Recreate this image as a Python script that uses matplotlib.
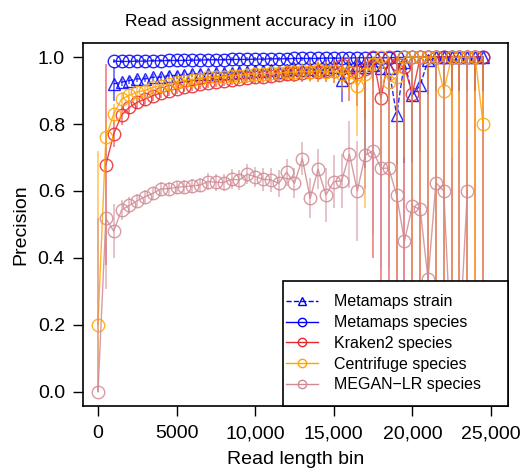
import numpy as np
import matplotlib
matplotlib.use("Agg")
import matplotlib.pyplot as plt
from matplotlib.patches import Rectangle

plt.rcParams['font.family'] = ['Liberation Sans', 'DejaVu Sans']

# read length bins
bins = list(range(0, 25000, 500))
nan = np.nan

strain = [nan, nan, 0.92, 0.925, 0.93, 0.935, 0.935, 0.94, 0.94, 0.945,
          0.945, 0.947, 0.95, 0.95, 0.95, 0.952, 0.953, 0.952, 0.955, 0.955,
          0.957, 0.958, 0.96, 0.955, 0.96, 0.965, 0.96, 0.965, 0.96, 0.965,
          0.97, 0.931, 0.97, 0.975, 0.97, 0.975, 0.967, 0.967, 0.827, 0.985,
          0.887, 0.916, 0.99, 1.0, 1.0, 1.0, 1.0, 1.0, 1.0, 1.0]
strain_err = [nan, nan, 0.05, 0.01, 0.01, 0.01, 0.01, 0.01, 0.01, 0.01,
              0.01, 0.01, 0.01, 0.01, 0.012, 0.012, 0.012, 0.012, 0.014, 0.014,
              0.015, 0.015, 0.016, 0.018, 0.018, 0.02, 0.02, 0.022, 0.022, 0.025,
              0.03, 0.065, 0.04, 0.05, 0.3, 0.05, 0.08, 0.08, 0.15, 0.3,
              0.2, 0.2, 0.1, 0.1, 0.1, 0.1, 0.1, 0.1, 0.1, 0.1]

species = [nan, nan, 0.988, 0.987, 0.987, 0.988, 0.988, 0.989, 0.989, 0.99,
           0.99, 0.99, 0.991, 0.991, 0.992, 0.992, 0.992, 0.993, 0.993, 0.993,
           0.994, 0.994, 0.995, 0.995, 0.995, 0.996, 0.996, 0.996, 0.996, 0.997,
           0.997, 0.997, 0.997, 0.998, 0.998, 0.998, 0.998, 0.998, 0.999, 0.999,
           1.0, 1.0, 1.0, 1.0, 1.0, 1.0, 1.0, 1.0, 1.0, 1.0]
species_err = [nan, nan, 0.005, 0.005, 0.005, 0.005, 0.005, 0.005, 0.005, 0.005,
               0.005, 0.005, 0.005, 0.005, 0.005, 0.005, 0.005, 0.006, 0.006, 0.006,
               0.006, 0.006, 0.007, 0.007, 0.007, 0.008, 0.008, 0.008, 0.009, 0.009,
               0.01, 0.01, 0.01, 0.012, 0.012, 0.015, 0.015, 0.02, 0.02, 0.02,
               0.02, 0.02, 0.02, 0.02, 0.02, 0.02, 0.02, 0.02, 0.02, 0.02]

kraken = [nan, 0.678, 0.77, 0.827, 0.85, 0.865, 0.875, 0.885, 0.893, 0.9,
          0.905, 0.91, 0.915, 0.92, 0.923, 0.927, 0.93, 0.933, 0.935, 0.938,
          0.94, 0.942, 0.945, 0.947, 0.95, 0.95, 0.952, 0.955, 0.955, 0.957,
          0.958, 0.976, 0.94, 0.955, 0.965, 1.0, 0.877, 1.0, 0.98, 0.97,
          0.89, 1.0, 1.0, 1.0, 1.0, 1.0, 1.0, 1.0, 1.0, 1.0]
kraken_err = [nan, 0.3, 0.04, 0.03, 0.02, 0.02, 0.02, 0.015, 0.015, 0.015,
              0.015, 0.015, 0.015, 0.015, 0.015, 0.015, 0.015, 0.015, 0.015, 0.015,
              0.02, 0.02, 0.02, 0.02, 0.02, 0.025, 0.025, 0.025, 0.03, 0.03,
              0.035, 0.04, 0.07, 0.1, 0.15, 0.6, 0.6, 1.0, 1.0, 1.0,
              1.0, 1.0, 1.0, 1.0, 1.0, 1.0, 1.0, 1.0, 1.0, 1.0]

centrifuge = [0.2, 0.76, 0.83, 0.875, 0.886, 0.896, 0.9, 0.91, 0.915, 0.92,
              0.925, 0.93, 0.932, 0.935, 0.94, 0.94, 0.942, 0.945, 0.945, 0.948,
              0.95, 0.95, 0.952, 0.952, 0.955, 0.955, 0.958, 0.955, 0.96, 0.955,
              0.958, 0.95, 0.955, 0.913, 0.949, 0.98, 1.0, 0.926, 0.94, 1.0,
              1.0, 1.0, 1.0, 1.0, 0.9, 1.0, 1.0, 1.0, 1.0, 0.8]
centrifuge_err = [0.52, 0.05, 0.03, 0.02, 0.02, 0.015, 0.015, 0.015, 0.015, 0.015,
                  0.015, 0.015, 0.015, 0.015, 0.015, 0.015, 0.015, 0.015, 0.015, 0.02,
                  0.02, 0.02, 0.02, 0.02, 0.02, 0.025, 0.025, 0.03, 0.03, 0.03,
                  0.035, 0.05, 0.06, 0.15, 0.4, 0.2, 0.3, 0.3, 0.6, 0.3,
                  0.8, 1.0, 1.0, 1.0, 1.0, 1.0, 1.0, 1.0, 1.0, 1.0]

megan = [0.0, 0.518, 0.48, 0.543, 0.557, 0.571, 0.583, 0.593, 0.606, 0.607,
         0.611, 0.613, 0.615, 0.618, 0.628, 0.626, 0.625, 0.635, 0.633, 0.65,
         0.643, 0.635, 0.633, 0.623, 0.656, 0.623, 0.697, 0.578, 0.665, 0.588,
         0.628, 0.63, 0.71, 0.60, 0.707, 0.72, 0.668, 0.668, 0.588, 0.45,
         0.555, 0.545, 0.336, 0.625, 0.60, 0.1, 0.15, 0.60, nan, 0.2]
megan_err = [0.52, 0.21, 0.08, 0.03, 0.025, 0.02, 0.02, 0.02, 0.02, 0.02,
             0.02, 0.02, 0.02, 0.02, 0.025, 0.025, 0.025, 0.03, 0.03, 0.03,
             0.03, 0.035, 0.035, 0.04, 0.04, 0.045, 0.05, 0.06, 0.06, 0.08,
             0.08, 0.08, 0.1, 0.15, 0.1, 0.25, 0.3, 0.3, 0.4, 0.5,
             0.6, 0.6, 0.6, 0.6, 0.6, 0.6, 0.6, 0.6, nan, 0.6]

series = [
    ("Metamaps strain", strain, strain_err, "#0000FF", "^", "--"),
    ("Metamaps species", species, species_err, "#0000FF", "o", "-"),
    ("Kraken2 species", kraken, kraken_err, "#E8282E", "o", "-"),
    ("Centrifuge species", centrifuge, centrifuge_err, "#FFA500", "o", "-"),
    ("MEGAN\u2212LR species", megan, megan_err, "#D08A94", "o", "-"),
]

fig = plt.figure(figsize=(5.22, 4.73), dpi=100)
ax = fig.add_axes([0.159, 0.142, 0.814, 0.767])

handles = []
for name, vals, err, col, mk, ls in series:
    v = np.array(vals, dtype=float)
    e = np.array(err, dtype=float)
    lo = np.clip(v - e, 0, 1)
    hi = np.clip(v + e, 0, 1)
    ax.vlines(bins, lo, hi, colors=col, alpha=0.6, lw=1.2)
    h, = ax.plot(bins, v, color=col, ls=ls, lw=1, marker=mk, ms=9,
                 mfc='none', mec=col, mew=1, alpha=0.85, label=name)
    handles.append(h)

ax.set_xlim(-954, 26081)
ax.set_ylim(-0.042, 1.042)
ax.set_xticks([0, 5000, 10000, 15000, 20000, 25000])
ax.set_xticklabels(["0", "5000", "10,000", "15,000", "20,000", "25,000"])
ax.set_yticks([0.0, 0.2, 0.4, 0.6, 0.8, 1.0])
ax.set_yticklabels(["0.0", "0.2", "0.4", "0.6", "0.8", "1.0"])
ax.tick_params(direction='out', length=7, width=1, labelsize=14)
ax.tick_params(axis='x', pad=7)
ax.tick_params(axis='y', pad=6)
for s in ax.spines.values():
    s.set_linewidth(1.2)

fig.text(0.499, 0.955, "Read assignment accuracy in  i100", fontsize=12.5,
         ha='center', va='center')
ax.set_xlabel("Read length bin", fontsize=14, labelpad=6)
ax.set_ylabel("Precision", fontsize=14, labelpad=6)

# legend box drawn by hand so its padding matches the original
box_x0 = (283 - 83) / 425
box_h = (406 - 281) / 363
ax.add_patch(Rectangle((box_x0, 0), 1 - box_x0, box_h, transform=ax.transAxes,
                       facecolor='white', edgecolor='black', lw=1.2,
                       zorder=10, clip_on=False))
leg = ax.legend(handles=handles, loc='center left',
                bbox_to_anchor=(box_x0 + 0.008, box_h / 2),
                frameon=False, fontsize=11.5, handlelength=2.0, numpoints=1,
                borderpad=0, borderaxespad=0, labelspacing=0.36,
                handletextpad=1.0)
leg.set_zorder(11)
for lh in leg.get_lines():
    lh.set_markersize(6)
    lh.set_alpha(1)

fig.savefig("out.png", dpi=100)
